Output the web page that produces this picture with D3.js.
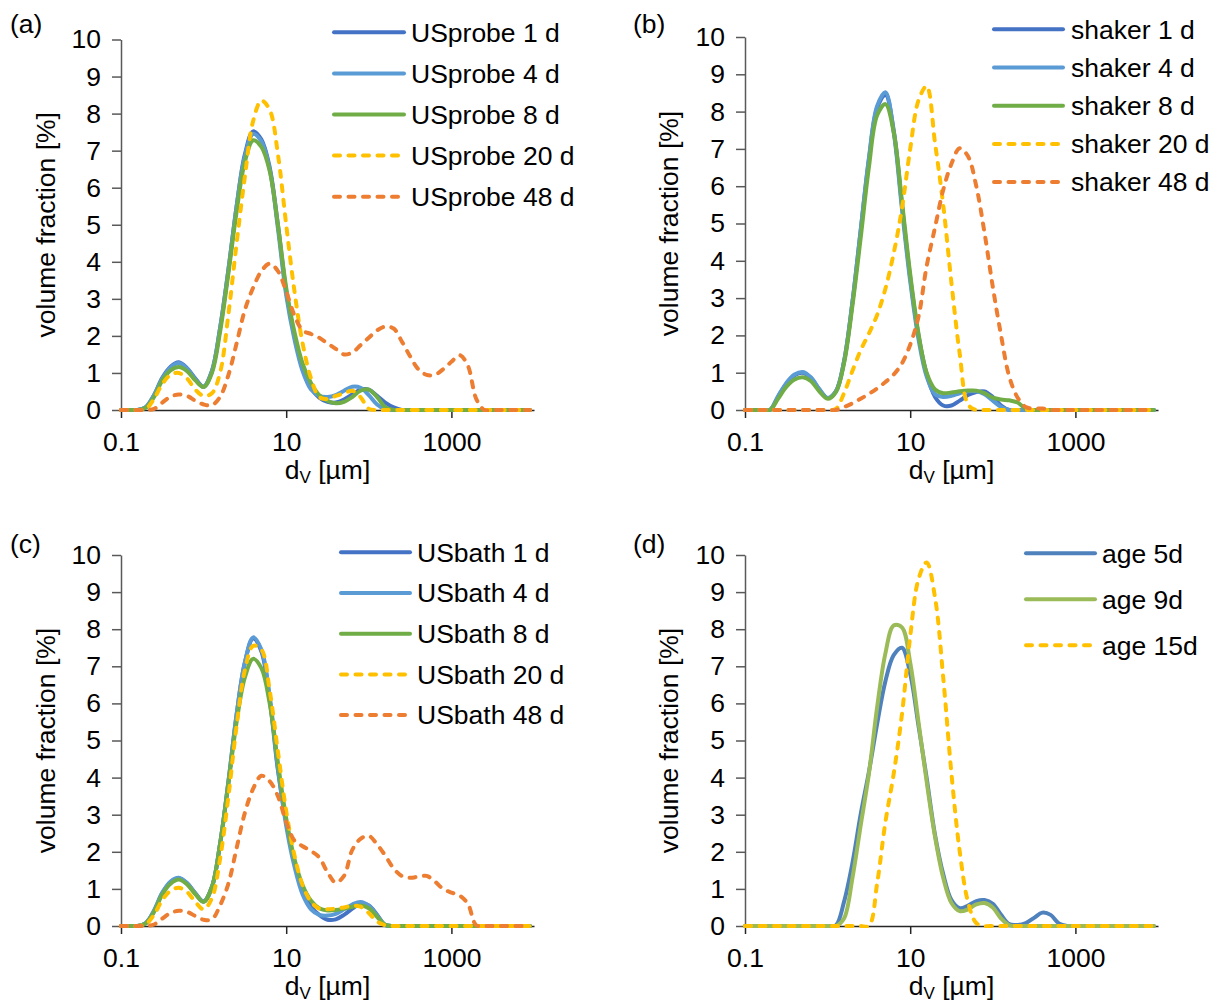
<!DOCTYPE html>
<html>
<head>
<meta charset="utf-8">
<script src="https://cdn.jsdelivr.net/npm/d3@7"></script>
<style>
  body { margin: 0; background: #fff; }
  svg text { font-family: "Liberation Sans", Arial, sans-serif; fill: #000; }
</style>
</head>
<body>
<svg id="chart" width="1211" height="1004"></svg>
<script>
// Particle size classes (µm), log-spaced at 0.1 decade
const sizes = [0.1, 0.126, 0.158, 0.2, 0.251, 0.316, 0.398, 0.501, 0.631, 0.794,
  1, 1.26, 1.58, 2, 2.51, 3.16, 3.98, 5.01, 6.31, 7.94,
  10, 12.6, 15.8, 20, 25.1, 31.6, 39.8, 50.1, 63.1, 79.4,
  100, 126, 158, 200, 251, 316, 398, 501, 631, 794,
  1000, 1260, 1580, 2000, 2510, 3160, 3980, 5010, 6310, 7940, 8910];

const xTickValues = [0.1, 10, 1000];
const xTickLabels = ["0.1", "10", "1000"];
const yTickValues = [0, 1, 2, 3, 4, 5, 6, 7, 8, 9, 10];

// (a) ultrasonic probe, volume fraction [%]
const usprobe1 = [0,0,0,0.08,0.4,0.87,1.17,1.29,1.13,0.85, 0.63,1.05,2.2,3.8,5.5,6.9,7.52,7.3,6.55,5.0, 3.2,2.0,1.15,0.6,0.33,0.22,0.2,0.28,0.42,0.55, 0.55,0.38,0.2,0.07,0,0,0,0,0,0, 0,0,0,0,0,0,0,0,0,0,0];
const usprobe4 = [0,0,0,0.08,0.4,0.85,1.15,1.27,1.12,0.83, 0.63,1.05,2.2,3.8,5.5,6.85,7.45,7.25,6.5,4.9, 3.1,1.9,1.05,0.55,0.38,0.35,0.4,0.52,0.63,0.6, 0.4,0.15,0.02,0,0,0,0,0,0,0, 0,0,0,0,0,0,0,0,0,0,0];
const usprobe8 = [0,0,0,0.06,0.35,0.8,1.07,1.16,1.05,0.8, 0.62,1.0,2.1,3.7,5.35,6.7,7.28,7.1,6.45,5.0, 3.3,2.1,1.25,0.72,0.4,0.25,0.18,0.22,0.35,0.52, 0.55,0.35,0.08,0,0,0,0,0,0,0, 0,0,0,0,0,0,0,0,0,0,0];
const usprobe20 = [0,0,0,0.03,0.3,0.7,0.95,1.0,0.85,0.55, 0.38,0.45,1.0,2.6,4.5,6.3,7.8,8.35,8.1,6.9, 5.0,3.2,1.8,0.85,0.35,0.3,0.38,0.45,0.52,0.35, 0.03,0,0,0,0,0,0,0,0,0, 0,0,0,0,0,0,0,0,0,0,0];
const usprobe48 = [0,0,0,0,0.03,0.2,0.36,0.42,0.38,0.25, 0.15,0.13,0.35,0.95,1.8,2.7,3.3,3.75,3.95,3.75, 3.2,2.55,2.15,2.05,1.95,1.8,1.65,1.5,1.55,1.75, 1.95,2.15,2.25,2.2,1.85,1.45,1.1,0.95,0.95,1.1, 1.3,1.48,1.2,0.3,0,0,0,0,0,0,0];

// (b) shaker
const shaker1 = [0,0,0,0,0.35,0.7,0.93,1.0,0.85,0.55, 0.32,0.5,1.3,2.9,4.8,6.7,8.1,8.45,7.5,5.5, 3.55,2.0,0.97,0.35,0.12,0.12,0.25,0.4,0.48,0.5, 0.35,0.12,0,0,0,0,0,0,0,0, 0,0,0,0,0,0,0,0,0,0,0];
const shaker4 = [0,0,0,0,0.37,0.72,0.95,1.02,0.87,0.56, 0.32,0.5,1.3,2.9,4.8,6.75,8.15,8.52,7.45,5.4, 3.45,1.9,0.9,0.42,0.35,0.38,0.45,0.5,0.5,0.42, 0.25,0.08,0,0,0,0,0,0,0,0, 0,0,0,0,0,0,0,0,0,0,0];
const shaker8 = [0,0,0,0,0.3,0.62,0.82,0.88,0.77,0.5, 0.3,0.48,1.25,2.8,4.6,6.5,7.9,8.2,7.45,5.6, 3.65,2.05,1.0,0.55,0.45,0.47,0.5,0.52,0.52,0.45, 0.33,0.28,0.26,0.2,0.03,0,0,0,0,0, 0,0,0,0,0,0,0,0,0,0,0];
const shaker20 = [0,0,0,0,0,0,0,0,0,0, 0,0.03,0.45,1.05,1.6,2.05,2.55,3.25,4.2,5.4, 7.0,8.3,8.68,7.15,5.5,3.4,1.5,0.15,0,0, 0,0,0,0,0,0,0,0,0,0, 0,0,0,0,0,0,0,0,0,0,0];
const shaker48 = [0,0,0,0,0,0,0,0,0,0, 0,0,0.08,0.18,0.3,0.43,0.58,0.75,0.95,1.25, 1.75,2.5,3.85,4.9,5.9,6.6,7.02,6.8,6.0,4.75, 3.3,2.0,0.9,0.33,0.08,0.04,0.04,0,0,0, 0,0,0,0,0,0,0,0,0,0,0];

// (c) ultrasonic bath
const usbath1 = [0,0,0,0.08,0.4,0.88,1.18,1.29,1.15,0.88, 0.66,1.05,2.2,3.9,5.7,7.1,7.75,7.4,6.1,4.2, 2.8,1.7,0.95,0.52,0.3,0.17,0.18,0.3,0.47,0.6, 0.55,0.3,0.03,0,0,0,0,0,0,0, 0,0,0,0,0,0,0,0,0,0,0];
const usbath4 = [0,0,0,0.08,0.42,0.9,1.2,1.3,1.16,0.88, 0.66,1.05,2.2,3.9,5.7,7.1,7.78,7.45,6.2,4.25, 2.7,1.6,0.85,0.45,0.3,0.28,0.33,0.45,0.58,0.65, 0.55,0.28,0.03,0,0,0,0,0,0,0, 0,0,0,0,0,0,0,0,0,0,0];
const usbath8 = [0,0,0,0.07,0.38,0.85,1.14,1.25,1.12,0.86, 0.65,1.05,2.2,3.85,5.5,6.7,7.2,6.95,6.0,4.4, 2.9,1.8,1.1,0.68,0.48,0.42,0.43,0.47,0.52,0.55, 0.48,0.25,0.03,0,0,0,0,0,0,0, 0,0,0,0,0,0,0,0,0,0,0];
const usbath20 = [0,0,0,0.05,0.3,0.7,0.95,1.03,0.92,0.65, 0.45,0.75,1.8,3.5,5.4,6.9,7.55,7.45,6.35,4.7, 3.1,1.9,1.1,0.65,0.47,0.45,0.47,0.5,0.55,0.52, 0.35,0.12,0.02,0,0,0,0,0,0,0, 0,0,0,0,0,0,0,0,0,0,0];
const usbath48 = [0,0,0,0,0.04,0.2,0.35,0.41,0.38,0.27, 0.17,0.18,0.55,1.15,2.1,3.05,3.7,4.05,3.9,3.5, 2.8,2.3,2.15,2.02,1.85,1.45,1.17,1.35,2.05,2.35, 2.43,2.2,1.9,1.55,1.35,1.3,1.33,1.35,1.2,1.0, 0.9,0.82,0.6,0.02,0,0,0,0,0,0,0];

// (d) sample age
const age5 = [0,0,0,0,0,0,0,0,0,0, 0,0.02,0.65,1.7,3.0,4.15,5.45,6.6,7.3,7.5, 6.8,5.4,4.0,2.45,1.4,0.7,0.48,0.55,0.67,0.7, 0.6,0.3,0.05,0.03,0.08,0.22,0.36,0.3,0.07,0, 0,0,0,0,0,0,0,0,0,0,0];
const age9 = [0,0,0,0,0,0,0,0,0,0, 0,0,0.2,1.3,2.7,4.1,5.9,7.35,8.1,8.05, 7.1,5.5,3.9,2.4,1.3,0.62,0.4,0.45,0.58,0.62, 0.5,0.2,0.02,0,0,0,0,0,0,0, 0,0,0,0,0,0,0,0,0,0,0];
const age15 = [0,0,0,0,0,0,0,0,0,0, 0,0,0,0,0,0,1.15,2.8,4.1,5.7, 7.8,9.35,9.8,8.85,6.7,4.1,2.0,0.65,0.08,0, 0,0,0,0,0,0,0,0,0,0, 0,0,0,0,0,0,0,0,0,0,0];

const C = {
  blueDark: "#4472C4", blueLight: "#5B9BD5", green: "#70AD47",
  gold: "#FFC000", orange: "#ED7D31",
  blue07: "#4F81BD", green07: "#9BBB59"
};

const panels = [
  { tag: "(a)", tagX: 10, tagY: 33, x0: 121, x1: 534, yTop: 39.5, yBot: 410, titleX: 55,
    leg: { x0: 334, x1: 404, tx: 411, y0: 32.3, dy: 41.1 },
    series: [
      { name: "USprobe 1 d", values: usprobe1, color: C.blueDark },
      { name: "USprobe 4 d", values: usprobe4, color: C.blueLight },
      { name: "USprobe 8 d", values: usprobe8, color: C.green },
      { name: "USprobe 20 d", values: usprobe20, color: C.gold, dashed: true },
      { name: "USprobe 48 d", values: usprobe48, color: C.orange, dashed: true }
    ] },
  { tag: "(b)", tagX: 633, tagY: 33, x0: 745, x1: 1158, yTop: 37, yBot: 410, titleX: 678,
    leg: { x0: 994, x1: 1063, tx: 1071, y0: 29.3, dy: 38.2 },
    series: [
      { name: "shaker 1 d", values: shaker1, color: C.blueDark },
      { name: "shaker 4 d", values: shaker4, color: C.blueLight },
      { name: "shaker 8 d", values: shaker8, color: C.green },
      { name: "shaker 20 d", values: shaker20, color: C.gold, dashed: true },
      { name: "shaker 48 d", values: shaker48, color: C.orange, dashed: true }
    ] },
  { tag: "(c)", tagX: 10, tagY: 553, x0: 121, x1: 534, yTop: 555, yBot: 926, titleX: 55,
    leg: { x0: 341, x1: 410, tx: 417, y0: 552.3, dy: 40.7 },
    series: [
      { name: "USbath 1 d", values: usbath1, color: C.blueDark },
      { name: "USbath 4 d", values: usbath4, color: C.blueLight },
      { name: "USbath 8 d", values: usbath8, color: C.green },
      { name: "USbath 20 d", values: usbath20, color: C.gold, dashed: true },
      { name: "USbath 48 d", values: usbath48, color: C.orange, dashed: true }
    ] },
  { tag: "(d)", tagX: 633, tagY: 553, x0: 745, x1: 1158, yTop: 555, yBot: 926, titleX: 678,
    leg: { x0: 1026, x1: 1095, tx: 1102, y0: 553.3, dy: 46 },
    series: [
      { name: "age 5d", values: age5, color: C.blue07 },
      { name: "age 9d", values: age9, color: C.green07 },
      { name: "age 15d", values: age15, color: C.gold, dashed: true }
    ] }
];

const FONT = 26.5;
const LW = 4;
const DASH = "6,8.5";
const svg = d3.select("#chart");
const defs = svg.append("defs");

function styleStroke(sel, s) {
  sel.attr("fill", "none")
    .attr("stroke", s.color)
    .attr("stroke-width", LW)
    .attr("stroke-linecap", "round")
    .attr("stroke-linejoin", "round")
    .attr("stroke-dasharray", s.dashed ? DASH : null);
}

panels.forEach((p, pi) => {
  const g = svg.append("g");
  const x = d3.scaleLog().domain([0.1, 10000]).range([p.x0, p.x1]);
  const y = d3.scaleLinear().domain([0, 10]).range([p.yBot, p.yTop]);

  // keep smoothed curves from dipping under the zero line
  const clipId = "plot-clip-" + pi;
  defs.append("clipPath").attr("id", clipId)
    .append("rect")
    .attr("x", p.x0 - 4).attr("y", p.yTop - 30)
    .attr("width", p.x1 - p.x0 + 8).attr("height", p.yBot - p.yTop + 30 + LW / 2);

  // y axis
  const ya = g.append("g")
    .attr("transform", `translate(${p.x0},0)`)
    .call(d3.axisLeft(y).tickValues(yTickValues).tickFormat(d3.format("d"))
      .tickSize(9).tickSizeOuter(0).tickPadding(11));
  ya.select(".domain").attr("stroke", "#595959").attr("stroke-width", 1.5);
  ya.selectAll(".tick line").attr("stroke", "#595959").attr("stroke-width", 1.5);
  ya.selectAll(".tick text").attr("font-size", FONT).attr("fill", "#000");
  ya.attr("font-family", null).attr("font-size", null);

  // x axis at zero
  const xa = g.append("g")
    .attr("transform", `translate(0,${p.yBot})`)
    .call(d3.axisBottom(x).tickValues(xTickValues)
      .tickFormat((d, i) => xTickLabels[i]).tickSize(8).tickSizeOuter(0).tickPadding(14));
  xa.select(".domain").attr("stroke", "#262626").attr("stroke-width", 1.5);
  xa.selectAll(".tick line").attr("stroke", "#262626").attr("stroke-width", 1.5);
  xa.selectAll(".tick text").attr("font-size", FONT).attr("fill", "#000").attr("dy", "0.71em");
  xa.attr("font-family", null).attr("font-size", null);

  // y axis title
  g.append("text")
    .attr("transform", `translate(${p.titleX},${(p.yTop + p.yBot) / 2}) rotate(-90)`)
    .attr("text-anchor", "middle")
    .attr("font-size", FONT)
    .text("volume fraction [%]");

  // x axis title: d_V [µm]
  const xt = g.append("text")
    .attr("x", (p.x0 + p.x1) / 2)
    .attr("y", p.yBot + 69)
    .attr("text-anchor", "middle")
    .attr("font-size", FONT);
  xt.append("tspan").text("d");
  xt.append("tspan").attr("font-size", 17).attr("dy", 4).text("V");
  xt.append("tspan").attr("dy", -4).text(" [µm]");

  // panel tag
  g.append("text").attr("x", p.tagX).attr("y", p.tagY).attr("font-size", FONT).text(p.tag);

  // size distribution curves
  const line = d3.line()
    .x((d, i) => x(sizes[i]))
    .y(d => y(d))
    .curve(d3.curveCatmullRom.alpha(0.5));
  const plot = g.append("g").attr("clip-path", `url(#${clipId})`);
  p.series.forEach(s => {
    plot.append("path").datum(s.values).attr("d", line).call(styleStroke, s);
  });

  // legend
  p.series.forEach((s, i) => {
    const ly = p.leg.y0 + i * p.leg.dy;
    g.append("line")
      .attr("x1", p.leg.x0).attr("x2", p.leg.x1)
      .attr("y1", ly).attr("y2", ly)
      .call(styleStroke, s);
    g.append("text")
      .attr("x", p.leg.tx).attr("y", ly).attr("dy", "0.35em")
      .attr("font-size", FONT)
      .text(s.name);
  });
});
</script>
</body>
</html>
